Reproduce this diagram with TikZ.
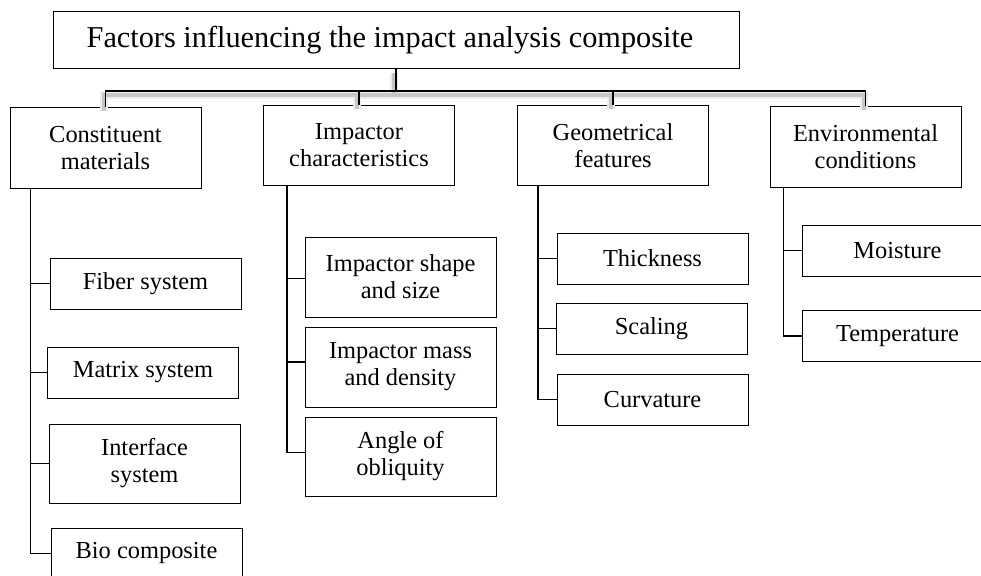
\documentclass[tikz,border=0pt]{standalone}
\usepackage{fontspec}
\setmainfont{Liberation Serif}
\begin{document}
\begin{tikzpicture}[x=1pt,y=-1pt,
  box/.style={draw, line width=1pt, inner sep=0pt, align=center, minimum width=191pt, font=\fontsize{24.4}{27}\selectfont},
  one/.style={box, minimum height=51pt},
  two/.style={box, minimum height=80pt},
  conn/.style={line width=1.1pt},
  shadeA/.style={line width=8pt, draw=black!7, line cap=butt},
  shadeB/.style={line width=4pt, draw=black!22, line cap=butt},
]
\useasboundingbox (0,0) rectangle (981,575);

% title
\node[box, minimum width=686pt, minimum height=57pt, font=\fontsize{30.3}{34}\selectfont] (top) at (396,40.5) {Factors influencing the impact analysis composite\hspace*{12pt}};

% main categories
\node[two] (cons) at (105.5,148) {Constituent\\materials};
\node[two] (imp)  at (359,145.5) {Impactor\\characteristics};
\node[two] (geo)  at (613,145.5) {Geometrical\\features};
\node[two] (env)  at (865.5,147) {Environmental\\conditions};

% bus coordinate
\coordinate (bus) at (396,91);

% shadow of the bus
\foreach \s in {shadeA,shadeB}{
  \draw[\s, transform canvas={shift={(-2pt,-4pt)}}]
    (cons.north) -- (cons.north |- bus) -- (env.north |- bus) -- (env.north)
    (imp.north) -- (imp.north |- bus)
    (geo.north) -- (geo.north |- bus)
    (top.south) -- (top.south |- bus);
}
% bus
\draw[line width=1.6pt] (top.south) -- (top.south |- bus);
\draw[conn] (cons.north) -- (cons.north |- bus) -- (env.north |- bus) -- (env.north);
\draw[conn] (imp.north |- bus) -- (imp.north);
\draw[conn] (geo.north |- bus) -- (geo.north);

% constituent materials
\node[one] (fiber)  at (145.5,283.5) {Fiber system};
\node[one] (matrix) at (143,372.5) {Matrix system};
\node[two, minimum height=79pt] (inter) at (144.5,463.5) {Interface\\system};
\node[one] (bio)    at (146.5,553.5) {Bio composite};
\coordinate (tc) at ([xshift=21pt]cons.south west);
\draw[conn] (tc) |- (bio.west);
\draw[conn] (tc |- fiber.west) -- (fiber.west);
\draw[conn] (tc |- matrix.west) -- (matrix.west);
\draw[conn] (tc |- inter.west) -- (inter.west);

% impactor characteristics
\node[two] (shape) at (400.5,277) {Impactor shape\\and size};
\node[two] (mass)  at (400.5,367) {Impactor mass\\and density};
\node[two, minimum height=79pt] (angle) at (400.5,456.5) {Angle of\\obliquity};
\coordinate (ti) at ([xshift=24pt]imp.south west);
\coordinate (sw) at ([yshift=-1.7pt]shape.west);
\coordinate (mw) at ([yshift=5pt]mass.west);
\coordinate (aw) at ([yshift=4pt]angle.west);
\draw[conn] (ti) |- (aw);
\draw[conn] (ti |- sw) -- (sw);
\draw[conn] (ti |- mw) -- (mw);

% geometrical features
\node[one] (thick) at (652.5,258.5) {Thickness};
\node[one] (scal)  at (651.5,328.5) {Scaling};
\node[one] (curv)  at (652.5,399.5) {Curvature};
\coordinate (tg) at ([xshift=21pt]geo.south west);
\draw[conn] (tg) |- (curv.west);
\draw[conn] (tg |- thick.west) -- (thick.west);
\draw[conn] (tg |- scal.west) -- (scal.west);

% environmental conditions
\node[one] (moist) at (897.5,250.5) {Moisture};
\node[one] (temp)  at (897.5,336) {Temperature};
\coordinate (te) at ([xshift=14pt]env.south west);
\draw[conn] (te) |- (temp.west);
\draw[conn] (te |- moist.west) -- (moist.west);
\end{tikzpicture}
\end{document}
